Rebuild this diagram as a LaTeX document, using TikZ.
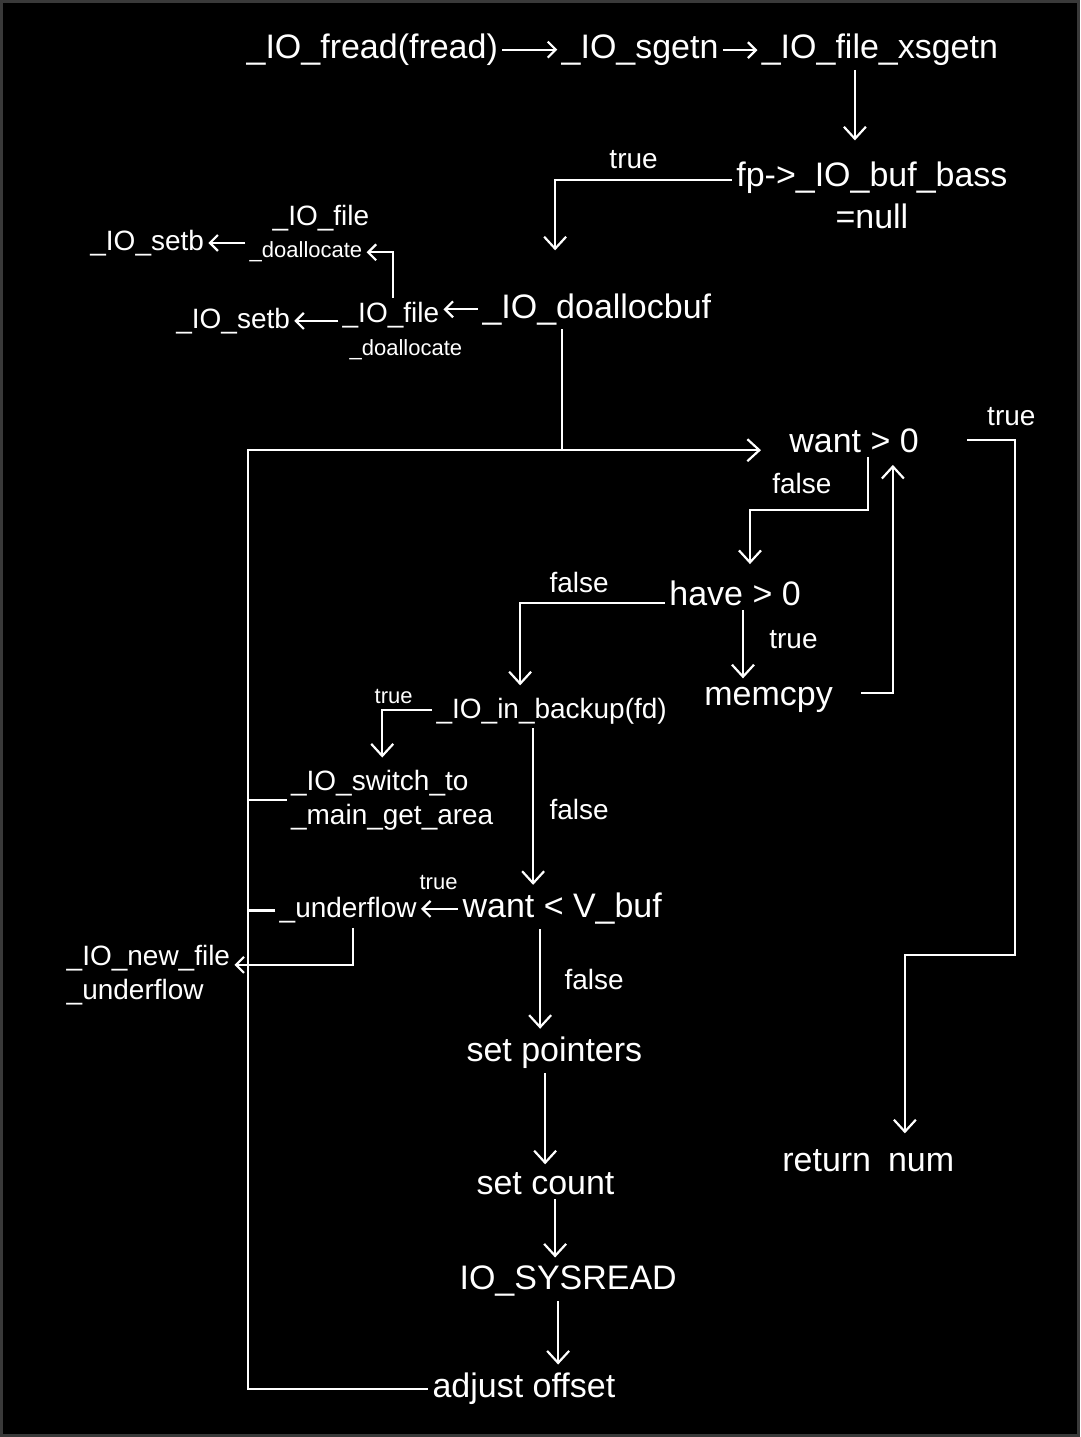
\documentclass[tikz,border=0pt]{standalone}
\usepackage{fontspec}
\setmainfont{Liberation Sans}
\usetikzlibrary{arrows.meta,calc}
\begin{document}
\begin{tikzpicture}[x=0.5pt,y=-0.5pt,
  every node/.style={text=white,inner sep=2pt},
  big/.style={font=\fontsize{17}{21}\selectfont},
  mid/.style={font=\fontsize{14}{17}\selectfont},
  sml/.style={font=\fontsize{11}{13}\selectfont},
  conn/.style={draw=white,line width=1.1pt},
  arr/.style={conn,-{Straight Barb[length=6pt,width=11pt]}},
  sarr/.style={conn,-{Straight Barb[length=4pt,width=8pt]}},
]
% canvas and thin frame
\fill[black] (0,0) rectangle (1080,1437);
\draw[gray!45!black,line width=1.5pt] (1,1) rectangle (1079,1436);
\path[use as bounding box] (0,0) rectangle (1080,1437);

% ---- call chain at the top
\node[big,anchor=base] (fread)  at (372,58) {\_IO\_fread(fread)};
\node[big,anchor=base] (sgetn)  at (640,58) {\_IO\_sgetn};
\node[big,anchor=base] (xsgetn) at (880,58) {\_IO\_file\_xsgetn};
\draw[sarr] (fread.east) -- (sgetn.west |- fread.east);
\draw[sarr] (sgetn.east) -- (xsgetn.west |- sgetn.east);

% ---- buffer test
\node[big,align=center] (base) at (872,195) {fp->\_IO\_buf\_bass\\=null};
\coordinate (k1) at (855,140);
\draw[arr] (xsgetn.south -| k1) -- (k1);

\node[mid,anchor=base west] (tbase) at (605,168) {true};
\coordinate (k2) at (555,180);
\coordinate (k3) at (555,250);
\draw[arr] (base.west |- k2) -- (k2) -- (k3);

% ---- buffer allocation
\node[big,anchor=base west] (dalloc) at (478,318) {\_IO\_doallocbuf};
\node[mid,anchor=base west] (lfile) at (338,322) {\_IO\_file};
\node[sml,anchor=base west] (lfileb) at (345,355) {\_doallocate};
\node[mid,anchor=base east] (lsetb) at (294,328) {\_IO\_setb};
\draw[sarr] (dalloc.west) -- (lfile.east |- dalloc.west);
\draw[sarr] (lfile.west |- lsetb.east) -- (lsetb.east);

\node[mid,anchor=base west] (ufile) at (268,225) {\_IO\_file};
\node[sml,anchor=base west] (ufileb) at (245,257) {\_doallocate};
\node[mid,anchor=base east] (usetb) at (208,250) {\_IO\_setb};
\draw[sarr] (ufileb.west |- usetb.east) -- (usetb.east);
\coordinate (k4) at (393,252);
\draw[sarr] (lfile.north -| k4) -- (k4) -- (ufileb.east |- k4);

% ---- main loop
\node[big,anchor=base west] (want) at (785,452) {want > 0};
\node[mid,anchor=base west] (twant) at (983,425) {true};
\coordinate (lp) at (248,450);
\coordinate (dj) at (562,450);
\draw[conn] (dalloc.south -| dj) -- (dj);

\node[big,anchor=base west] (adjust) at (428,1398) {adjust offset};
\draw[arr,shorten >=12pt] (adjust.west) -| (lp) -- (want.west |- lp);

% want > 0 true -> return num
\node[big,anchor=base west] (ret) at (778,1172) {return\enspace num};
\coordinate (k6) at (1015,440);
\coordinate (k7) at (1015,955);
\coordinate (k8) at (905,955);
\draw[arr,shorten >=6pt] (want.east |- k6) ++(22pt,0) -- (k6) -- (k7) -- (k8) -- (ret.north -| k8);

% want > 0 false -> have > 0
\node[mid,anchor=base west] (fwant) at (768,493) {false};
\node[big,anchor=base west] (have) at (665,605) {have > 0};
\coordinate (k9) at (868,510);
\coordinate (k10) at (750,510);
\draw[arr,shorten >=6pt] (want.south -| k9) -- (k9) -- (k10) -- (have.north -| k10);

% have > 0 true -> memcpy -> back to want > 0
\node[big,anchor=base west] (memcpy) at (700,705) {memcpy};
\node[mid,anchor=base west] (thave) at (765,648) {true};
\coordinate (k12) at (743,640);
\draw[arr,shorten >=2pt] (have.south -| k12) -- (memcpy.north -| k12);
\coordinate (k13) at (893,693);
\draw[arr,shorten >=4pt] (memcpy.east |- k13) ++(12pt,0) -- (k13) -- (want.south -| k13);

% have > 0 false -> _IO_in_backup
\node[mid,anchor=base west] (fhave) at (545,592) {false};
\node[mid,anchor=base west] (backup) at (432,718) {\_IO\_in\_backup(fd)};
\coordinate (k11) at (520,603);
\draw[arr,shorten >=4pt] (have.west |- k11) -- (k11) -- (backup.north -| k11);

% backup true -> switch to main get area
\node[sml,anchor=base west] (tback) at (370,703) {true};
\node[mid,align=left] (swt) at (392,800) {\_IO\_switch\_to\\\_main\_get\_area};
\coordinate (k14) at (382,710);
\draw[arr,shorten >=4pt] (backup.west |- k14) -- (k14) -- (swt.north -| k14);
\draw[conn] (swt.west) -- (swt.west -| lp);

% backup false -> want < V_buf
\node[mid,anchor=base west] (fback) at (545,820) {false};
\node[big,anchor=base west] (wantv) at (458,918) {want < V\_buf};
\coordinate (k15) at (533,740);
\draw[arr,shorten >=2pt] (backup.south -| k15) -- (wantv.north -| k15);

% want < V_buf true -> underflow
\node[sml,anchor=base west] (tv) at (415,890) {true};
\node[mid,anchor=base west] (uflow) at (275,918) {\_underflow};
\draw[sarr] (wantv.west) -- (uflow.east |- wantv.west);
\draw[conn] (uflow.west) -- (uflow.west -| lp);
\node[mid,align=left] (nfu) at (148,975) {\_IO\_new\_file\\\_underflow};
\coordinate (k16) at (353,965);
\draw[sarr] (uflow.south -| k16) -- (k16) -- (nfu.east |- k16);

% want < V_buf false -> read path
\node[mid,anchor=base west] (fv) at (560,990) {false};
\node[big,anchor=base west] (setp) at (462,1062) {set pointers};
\node[big,anchor=base west] (setc) at (472,1195) {set count};
\node[big,anchor=base west] (sysr) at (455,1290) {IO\_SYSREAD};
\coordinate (k17) at (540,980);
\coordinate (k18) at (545,1100);
\coordinate (k19) at (555,1230);
\coordinate (k20) at (558,1330);
\draw[arr,shorten >=2pt] (wantv.south -| k17) -- (setp.north -| k17);
\draw[arr,shorten >=2pt] (setp.south -| k18) -- (setc.north -| k18);
\draw[arr,shorten >=2pt] (setc.south -| k19) -- (sysr.north -| k19);
\draw[arr,shorten >=2pt] (sysr.south -| k20) -- (adjust.north -| k20);
\end{tikzpicture}
\end{document}
